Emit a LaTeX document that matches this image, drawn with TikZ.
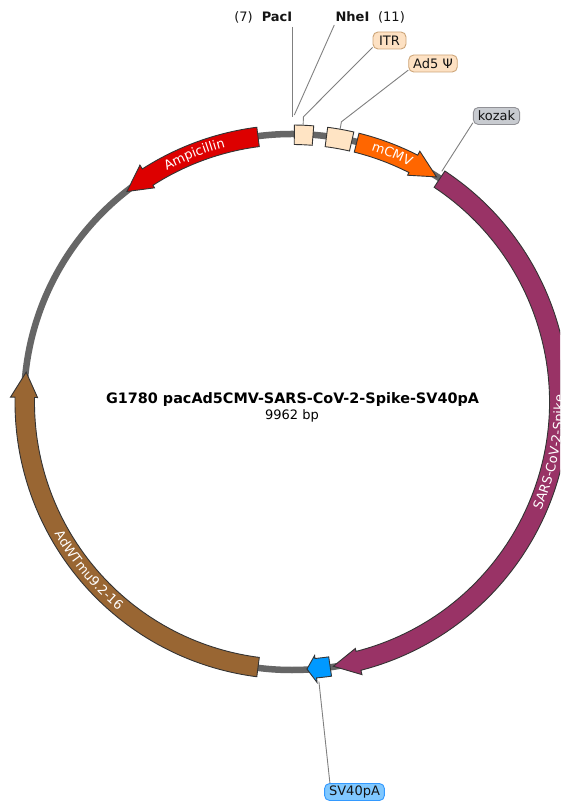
\documentclass[tikz,border=0pt]{standalone}
\usepackage{fontspec}
\setmainfont{DejaVu Sans}
\usetikzlibrary{decorations.text}
\definecolor{bbgray}{RGB}{102,102,102}
\definecolor{outl}{RGB}{51,51,51}
\definecolor{lgray}{RGB}{128,128,128}
\definecolor{labtxt}{RGB}{20,20,20}
\definecolor{ampred}{RGB}{221,0,0}
\definecolor{cmvorange}{RGB}{255,102,0}
\definecolor{spikecol}{RGB}{153,51,102}
\definecolor{svblue}{RGB}{0,153,255}
\definecolor{adbrown}{RGB}{153,102,51}
\definecolor{boxfill}{RGB}{255,228,196}
\definecolor{peach}{RGB}{253,225,195}
\definecolor{peachdk}{RGB}{205,165,120}
\definecolor{kozfill}{RGB}{200,203,208}
\definecolor{kozdraw}{RGB}{145,145,150}
\definecolor{svfill}{RGB}{128,200,255}
\definecolor{svdraw}{RGB}{51,153,255}
\newcommand{\featarrow}[4]{%
  \draw[featline, fill=#1] (#2:277) arc[start angle=#2, end angle=#3, radius=277]
    -- (#3:281.5) -- (#4:267.5) -- (#3:254.5) -- (#3:257.5)
    arc[start angle=#3, end angle=#2, radius=257.5] -- cycle;}
\newcommand{\featbox}[3]{%
  \draw[featline, fill=#1] (#2:277) arc[start angle=#2, end angle=#3, radius=277]
    -- (#3:257.5) arc[start angle=#3, end angle=#2, radius=257.5] -- cycle;}
\newcommand{\feattext}[4]{% text, center angle, radius, direction(+1 ccw / -1 cw)
  \path[decorate, decoration={text along path, text align=center,
     text={|\color{white}\fontsize{13}{15}\selectfont|#1}}]
     ({#2-30*#4}:#3) arc[start angle={#2-30*#4}, end angle={#2+30*#4}, radius=#3];}
\tikzset{
  backbone/.style={draw=bbgray, line width=6.5pt},
  featline/.style={draw=outl, line width=0.9pt, line join=miter},
  conn/.style={draw=lgray, line width=0.9pt},
  lab/.style={font=\fontsize{13}{15}\selectfont, text=labtxt},
  tag/.style={lab, rounded corners=5pt, line width=0.9pt, inner xsep=4.5pt, inner ysep=1pt, minimum height=17pt},
}
\begin{document}
\begin{tikzpicture}[x=1pt,y=1pt]
\useasboundingbox (-292,-400) rectangle (268,402);
\clip (-292,-400) rectangle (268,402);
\fill[white] (-292,-400) rectangle (268,402);
% backbone
\draw[backbone] (0,0) circle[radius=268];
% features
\featarrow{ampred}{97.3}{122.7}{128.1}
\featbox{boxfill}{85.5}{89.5}
\featbox{boxfill}{77.1}{82.6}
\featarrow{cmvorange}{76.0}{63.0}{57.3}
\featarrow{spikecol}{56.5}{-75.6}{-81.1}
\featarrow{svblue}{-81.8}{-84.9}{-86.8}
\featarrow{adbrown}{-97.3}{-181.0}{-186.4}
% feature texts
\feattext{Ampicillin}{111.5}{263.5}{-1}
\feattext{mCMV}{68}{263.5}{-1}
\feattext{SARS-CoV-2-Spike}{-11}{271.5}{1}
\feattext{AdWTmu9.2-16}{219.6}{271.5}{1}
% title
\node[font=\bfseries\fontsize{14.4}{17}\selectfont, anchor=base] (title) at (0.5,-1.3) {G1780 pacAd5CMV-SARS-CoV-2-Spike-SV40pA};
\node[font=\fontsize{13}{15}\selectfont, anchor=base] (bp) at (0,-18) {9962 bp};
% site labels
\node[lab, anchor=base] (p7) at (-48.5,380.5) {(7)};
\node[lab, font=\bfseries\fontsize{13}{15}\selectfont, anchor=base] (pacI) at (-15,380.5) {PacI};
\node[lab, font=\bfseries\fontsize{13}{15}\selectfont, anchor=base] (nheI) at (60.5,380.5) {NheI};
\node[lab, anchor=base] (p11) at (99.5,380.5) {(11)};
\coordinate (pactop) at (0.7,375);
\coordinate (pacsite) at (0.7,285);
\coordinate (nhetop) at (42.3,377);
\coordinate (nhesite) at (2.3,287);
\draw[conn] (pactop) -- (pacsite);
\draw[conn] (nhetop) -- (nhesite);
% feature labels
\node[tag, fill=peach, draw=peachdk, minimum width=33pt] (itr) at (97.5,361.5) {ITR};
\node[tag, fill=peach, draw=peachdk] (ad5) at (141,338.5) {Ad5 Ψ};
\node[tag, fill=kozfill, draw=kozdraw] (kozak) at (204.5,286) {kozak};
\node[tag, fill=svfill, draw=svdraw] (svlab) at (62.5,-390) {SV40pA};
\coordinate (itrsite) at (87.7:285.5);
\coordinate (itrbox) at (87.7:277);
\coordinate (adsite) at (80:284.5);
\coordinate (adbox) at (80:277);
\coordinate (kozsite) at (57:275);
\coordinate (svsite) at (-84.5:281);
\draw[conn] (itr.202) -- (itrsite) -- (itrbox);
\draw[conn] (ad5.195) -- (adsite) -- (adbox);
\draw[conn] (kozak.196) -- (kozsite);
\draw[conn] (svlab.160) -- (svsite);
\end{tikzpicture}
\end{document}
